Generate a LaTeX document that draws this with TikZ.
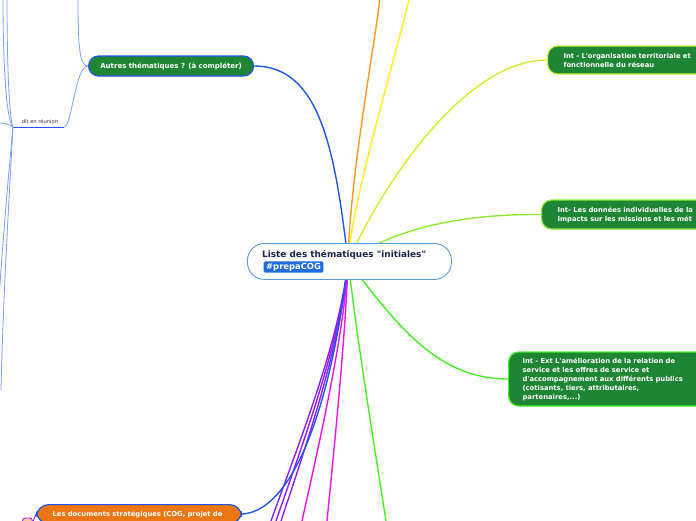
\documentclass[tikz,border=0pt]{standalone}
\usepackage{fontspec}
\setmainfont{DejaVu Sans}[Ligatures=TeXOff]
\usetikzlibrary{backgrounds}
\definecolor{ngreen}{RGB}{29,133,52}
\definecolor{navy}{RGB}{27,37,80}
\definecolor{cborder}{RGB}{90,155,215}
\definecolor{tagblue}{RGB}{31,107,224}
\definecolor{bblue}{RGB}{34,85,238}
\definecolor{lblue}{RGB}{125,160,255}
\definecolor{corange}{RGB}{255,153,34}
\definecolor{cyellow}{RGB}{255,235,30}
\definecolor{cygreen}{RGB}{205,238,50}
\definecolor{cgreen1}{RGB}{140,235,50}
\definecolor{cgreen2}{RGB}{70,238,40}
\definecolor{cmagenta}{RGB}{240,20,230}
\definecolor{cpurple}{RGB}{140,30,250}
\definecolor{nodeorange}{RGB}{236,118,18}
\begin{document}
\begin{tikzpicture}[x=1pt,y=-1pt,
  conn/.style={line width=1.4pt},
  thin/.style={line width=0.8pt, color=lblue},
  greenbox/.style={draw, line width=1.2pt, fill=ngreen, rounded corners=10pt, text=white,
     font=\bfseries\fontsize{6.8}{9}\selectfont, align=left, anchor=west, inner ysep=2pt},
  centerbox/.style={draw=cborder, line width=0.9pt, fill=white, rounded corners=17pt,
     minimum width=204pt, minimum height=36pt, anchor=north west, inner sep=0pt},
  tagbox/.style={fill=tagblue, rounded corners=1.5pt, text=white, font=\bfseries\fontsize{8.4}{9}\selectfont,
     inner xsep=2.5pt, inner ysep=1.6pt, anchor=west}]
\useasboundingbox (0,0) rectangle (696,520);
\clip (0,0) rectangle (696,520);

% nodes
\node[centerbox] (center) at (247,243) {};
\node[anchor=west, inner sep=0pt, text=navy, font=\bfseries\fontsize{8.9}{10}\selectfont] (title) at (262,254.5) {Liste des thématiques "initiales"};
\node[tagbox] (tag) at (263.5,267) {\#prepaCOG};

\node[greenbox, draw=bblue, minimum width=165pt, minimum height=20pt, align=center,
      font=\bfseries\fontsize{7}{8}\selectfont, inner xsep=4pt] (autres) at (88,66) {Autres thématiques ? (à compléter)};

\node[greenbox, draw=cygreen, minimum width=200pt, minimum height=28pt, inner xsep=16pt, text width=180pt] (org) at (547,60)
  {Int - L'organisation territoriale et\\fonctionnelle du réseau};
\node[greenbox, draw=cgreen1, minimum width=200pt, minimum height=29pt, inner xsep=16pt, text width=200pt] (donnees) at (541,214.5)
  {Int- Les données individuelles de la\\Impacts sur les missions et les mét};
\node[greenbox, draw=cgreen2, minimum width=200pt, minimum height=54pt, inner xsep=14pt, text width=190pt] (amelio) at (508,379)
  {Int - Ext L'amélioration de la relation de\\service et les offres de service et\\d'accompagnement aux différents publics\\(cotisants, tiers, attributaires,\\partenaires,...)};

\node[draw=bblue, line width=1.2pt, fill=nodeorange, rounded corners=12pt, text=white,
      font=\bfseries\fontsize{6.8}{9}\selectfont, minimum width=205pt,
      anchor=north west, inner xsep=16pt, inner ysep=6pt, text width=173pt, align=left] (docs) at (36,504)
  {Les documents stratégiques (COG, projet de};
\node[draw=cpurple, line width=0.9pt, fill=nodeorange!40, rounded corners=3pt, minimum width=10pt,
      minimum height=8pt, anchor=north west, inner sep=0pt] (small) at (22,517.5) {};

\node[inner sep=0pt, font=\fontsize{5.2}{6}\selectfont, text=black!80] (dit) at (40,121) {dit en réunion};
\coordinate (ulL) at (13,127);
\coordinate (ulR) at (64,127);

% free ends
\coordinate (eOr) at (380,-1);
\coordinate (eYe) at (409,-1);
\coordinate (eGd) at (386,521);
\coordinate (eM1) at (302,521);
\coordinate (eM2) at (327,521);
\coordinate (eP1) at (271,521);
\coordinate (eP2) at (276,521);
\coordinate (eP3) at (281,521);
\coordinate (eL1) at (78,-1);
\coordinate (eL2) at (3,-1);
\coordinate (eL3) at (7,-1);
\coordinate (eL4) at (0,123);
\coordinate (eL5) at (1,390);
\coordinate (eL6) at (-1,300);

\begin{scope}[on background layer]
  \coordinate (hub) at (348,261);
  \draw[conn, corange] (hub) .. controls (350,180) and (372,60) .. (eOr);
  \draw[conn, cyellow] (hub) .. controls (352,200) and (395,60) .. (eYe);
  \draw[conn, cygreen] (hub) .. controls (390,170) and (470,60) .. (org.west);
  \draw[conn, cgreen1] (hub) .. controls (400,225) and (470,214) .. (donnees.west);
  \draw[conn, cgreen2] (hub) .. controls (400,330) and (440,379) .. (amelio.west);
  \draw[conn, cgreen2] (hub) .. controls (360,360) and (375,450) .. (eGd);
  \draw[conn, cmagenta] (hub) .. controls (345,330) and (320,440) .. (eM1);
  \draw[conn, cmagenta] (hub) .. controls (346,330) and (335,440) .. (eM2);
  \draw[conn, cpurple] (hub) .. controls (340,340) and (300,440) .. (eP1);
  \draw[conn, cpurple] (hub) .. controls (341,340) and (304,440) .. (eP2);
  \draw[conn, cpurple] (hub) .. controls (342,340) and (308,440) .. (eP3);
  \draw[conn, bblue] (hub) .. controls (335,380) and (300,510) .. (docs.east);
  \draw[conn, bblue] (hub) .. controls (335,150) and (320,66) .. (autres.east);
  % left thin lines
  \draw[thin] (autres.west) .. controls (80,66) and (78,50) .. (eL1);
  \draw[thin] (autres.west) .. controls (75,66) and (72,127) .. (ulR);
  \draw[bblue, line width=1pt] (ulR) -- (ulL);
  \draw[thin] (ulL) .. controls (6,120) and (3,60) .. (eL2);
  \draw[thin] (ulL) .. controls (9,118) and (7,60) .. (eL3);
  \draw[thin] (ulL) .. controls (8,124) and (4,123) .. (eL4);
  \draw[thin] (ulL) .. controls (9,200) and (3,300) .. (eL5);
  \draw[thin] (ulL) .. controls (8,180) and (2,250) .. (eL6);
  \draw[cpurple, line width=0.9pt] (docs.west) -- (small.east);
\end{scope}
\end{tikzpicture}
\end{document}
